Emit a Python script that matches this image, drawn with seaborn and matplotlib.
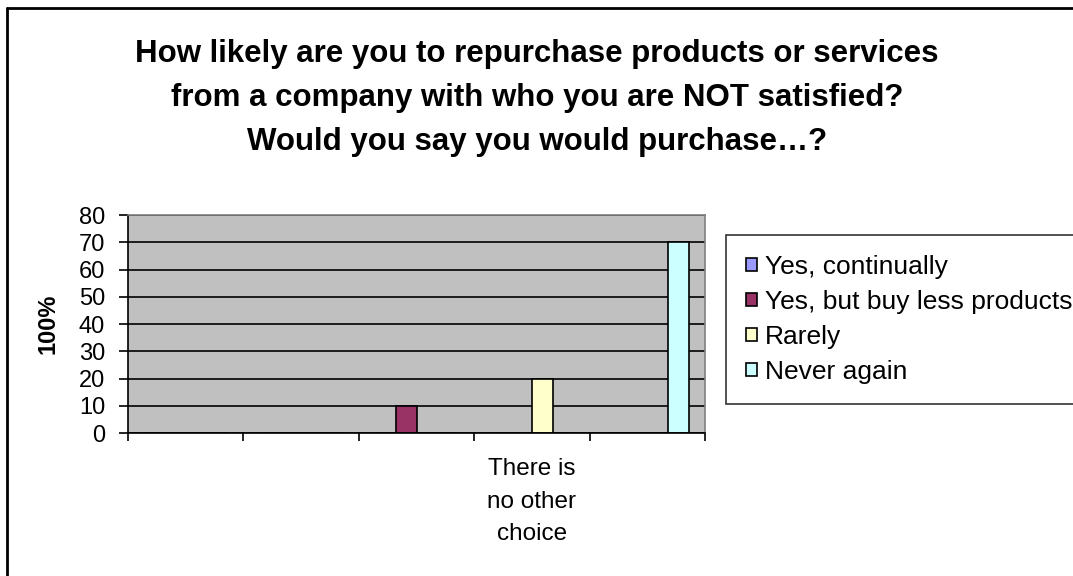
import pandas as pd
import matplotlib
matplotlib.use("Agg")
import matplotlib.pyplot as plt
import seaborn as sns
from matplotlib.lines import Line2D

# données
categories = ["c1", "c2", "c3", "c4", "c5"]
tick_labels = ["", "", "", "There is\nno other\nchoice", ""]
series = ["Yes, continually", "Yes, but buy less products", "Rarely", "Never again"]
yes_continually = [0, 0, 0, 0, 0]
yes_buy_less = [0, 0, 10, 0, 0]
rarely = [0, 0, 0, 20, 0]
never_again = [0, 0, 0, 0, 70]
colors = ["#9999FF", "#993366", "#FFFFCC", "#CCFFFF"]

rows = []
for name, vals in zip(series, [yes_continually, yes_buy_less, rarely, never_again]):
    for cat, v in zip(categories, vals):
        rows.append({"cat": cat, "serie": name, "val": v})
df = pd.DataFrame(rows)

sns.set_style("white")
plt.rcParams["font.family"] = ["Liberation Sans", "DejaVu Sans"]
plt.rcParams["text.color"] = "black"
plt.rcParams["axes.labelcolor"] = "black"
plt.rcParams["xtick.color"] = "black"
plt.rcParams["ytick.color"] = "black"

fig = plt.figure(figsize=(10.73, 5.76), dpi=100)
ax = fig.add_axes([128 / 1073, 1 - 433 / 576, 577 / 1073, 218 / 576])
ax.set_facecolor("#C0C0C0")

sns.barplot(data=df, x="cat", y="val", hue="serie", hue_order=series,
            palette=colors, width=0.727, edgecolor="black", linewidth=1.2,
            saturation=1, ax=ax, legend=True)

ax.set_ylim(0, 80)
ax.set_xlim(-0.5, 4.5)
ax.set_yticks(range(0, 81, 10))
ax.yaxis.grid(True, color="black", linewidth=1.2)
ax.set_axisbelow(True)

# ticks aux frontières des catégories, étiquettes au centre
ax.set_xticks([i - 0.5 for i in range(6)])
ax.set_xticklabels([])
ax.set_xticks(range(5), minor=True)
ax.set_xticklabels(tick_labels, minor=True, fontsize=17.5, linespacing=1.63)
ax.tick_params(axis="x", which="major", length=6, width=1.2, direction="out")
ax.tick_params(axis="x", which="minor", length=0, pad=18)
ax.tick_params(axis="y", length=6.5, width=1.2, direction="out", labelsize=17, pad=10)
ax.xaxis.set_tick_params(bottom=True, which="major")
ax.yaxis.set_tick_params(left=True)

for side in ["left", "bottom"]:
    ax.spines[side].set_color("black")
    ax.spines[side].set_linewidth(1.2)
for side in ["top", "right"]:
    ax.spines[side].set_color("#808080")
    ax.spines[side].set_linewidth(1.2)

ax.set_xlabel("")
ax.set_ylabel("100%", fontsize=17, fontweight="bold", labelpad=14)

handles, labels = ax.get_legend_handles_labels()
ax.legend_.remove()
leg = fig.legend(handles, labels, loc="upper left",
                 bbox_to_anchor=(726 / 1073, 1 - 235 / 576),
                 bbox_transform=fig.transFigure, frameon=True, fancybox=False,
                 fontsize=19, handlelength=0.42, handleheight=0.42,
                 handletextpad=0.3, labelspacing=0.42, borderpad=0.75,
                 borderaxespad=0)
leg.get_frame().set_edgecolor("black")
leg.get_frame().set_linewidth(1.2)

fig.text(537 / 1073, 1 - 98 / 576,
         "How likely are you to repurchase products or services\n"
         "from a company with who you are NOT satisfied?\n"
         "Would you say you would purchase\u2026?",
         ha="center", va="center", fontsize=22.5, fontweight="bold", linespacing=1.6)

# cadre du graphique (gauche et haut)
fig.add_artist(Line2D([6.5 / 1073, 6.5 / 1073], [0, 1 - 7.5 / 576],
                      transform=fig.transFigure, color="black", linewidth=2))
fig.add_artist(Line2D([6.5 / 1073, 1], [1 - 7.5 / 576, 1 - 7.5 / 576],
                      transform=fig.transFigure, color="black", linewidth=2))

fig.savefig("out.png", dpi=100)
